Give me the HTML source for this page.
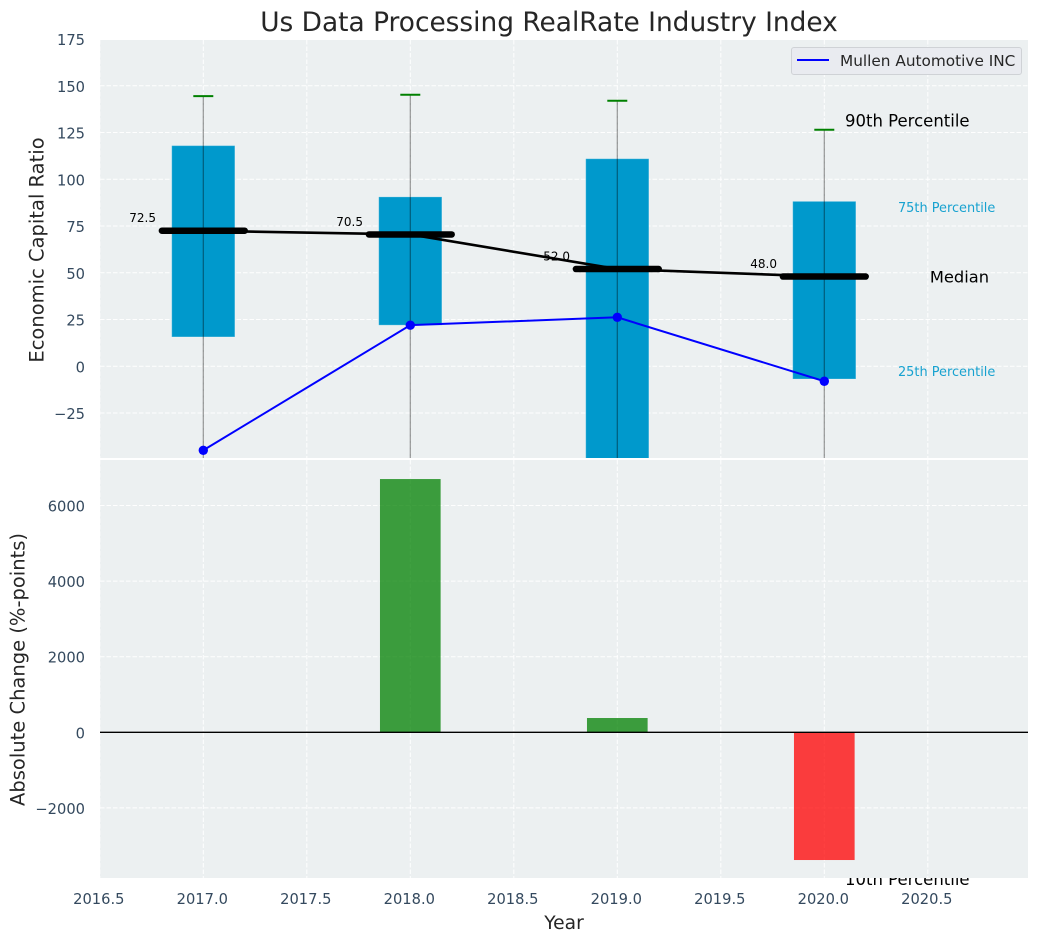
<!DOCTYPE html>
<html lang="en">
<head>
<meta charset="utf-8">
<title>Us Data Processing RealRate Industry Index</title>
<style>
html,body{margin:0;padding:0;background:#fff;width:1039px;height:942px;overflow:hidden}
svg{display:block}
text{font-family:"DejaVu Sans","Liberation Sans",sans-serif}
</style>
</head>
<body>
<svg id="chart" width="1039" height="942" viewBox="0 0 1039 942" xmlns="http://www.w3.org/2000/svg">
  <defs>
    <clipPath id="clip-top"><rect x="100" y="40" width="928" height="418"/></clipPath>
    <clipPath id="clip-bottom"><rect x="100" y="460" width="928" height="418"/></clipPath>
  </defs>
  <text x="549" y="31" text-anchor="middle" font-size="26.4" fill="#262626">Us Data Processing RealRate Industry Index</text>
  <rect x="100" y="40" width="928" height="418" fill="#ecf0f1"/>
  <g id="top-grid"></g>
  <g id="top-marks" clip-path="url(#clip-top)"></g>
  <g id="top-notes"></g>
  <rect x="100" y="460" width="928" height="418" fill="#ecf0f1"/>
  <g id="bottom-grid"></g>
  <g id="bottom-marks" clip-path="url(#clip-bottom)"></g>
  <g id="tick-labels"></g>
  <text transform="translate(37 250) rotate(-90)" dominant-baseline="central" text-anchor="middle" font-size="19.5" fill="#262626">Economic Capital Ratio</text>
  <text transform="translate(18 669.5) rotate(-90)" dominant-baseline="central" text-anchor="middle" font-size="19.5" fill="#262626">Absolute Change (%-points)</text>
  <text x="564" y="929" text-anchor="middle" font-size="18.67" fill="#262626">Year</text>
  <g>
    <rect x="791.5" y="47.5" width="230" height="27" rx="2.5" fill="#e9ebf0" stroke="#cfd2d6" stroke-width="1"/>
    <line x1="797" y1="60" x2="829" y2="60" stroke="#0000ff" stroke-width="2"/>
    <text x="840" y="66" font-size="15.3" fill="#262626">Mullen Automotive INC</text>
  </g>
</svg>
<script>
const years = [2017, 2018, 2019, 2020];
const p90 = [144.5, 145.2, 142, 126.5];
const p75 = [118, 90.6, 111, 88.2];
const medians = [72.5, 70.5, 52, 48];
const p25 = [15.7, 22, -60, -6.8];
const p10 = [-110, -90, -130, -279];
const companyValues = [-44.9, 22, 26.2, -8];
const absChange = [0, 6700, 378, -3379];
const xTickValues = [2016.5, 2017, 2017.5, 2018, 2018.5, 2019, 2019.5, 2020, 2020.5];
const topYTickValues = [175, 150, 125, 100, 75, 50, 25, 0, -25];
const bottomYTickValues = [6000, 4000, 2000, 0, -2000];

const NS = 'http://www.w3.org/2000/svg';
const xScale = v => 99.8 + (v - 2016.5) * 207;
const yTop = v => 366.3 - v * 1.87;
const yBottom = v => 732.3 - v * 0.0378;
const fmtNum = v => String(v).replace('-', '\u2212');

function mk(tag, parent, props) {
  const el = document.createElementNS(NS, tag);
  for (const k in props) el.setAttribute(k, props[k]);
  parent.appendChild(el);
  return el;
}

const topGrid = document.getElementById('top-grid');
const bottomGrid = document.getElementById('bottom-grid');
const topMarks = document.getElementById('top-marks');
const bottomMarks = document.getElementById('bottom-marks');
const topNotes = document.getElementById('top-notes');
const tickLabels = document.getElementById('tick-labels');
const gridStyle = {stroke: '#ffffff', 'stroke-width': 1, 'stroke-dasharray': '4.5 2', opacity: 0.95};

xTickValues.forEach(v => {
  const a = mk('line', topGrid, Object.assign({x1: xScale(v), x2: xScale(v), y1: 40, y2: 458}, gridStyle));
  
  
  const b = mk('line', bottomGrid, Object.assign({x1: xScale(v), x2: xScale(v), y1: 460, y2: 878}, gridStyle));
  
  
  const t = mk('text', tickLabels, {x: xScale(v) - 1, y: 904, 'text-anchor': 'middle', 'font-size': 14.67, fill: '#34495e'});
  
  
  t.textContent = v.toFixed(1);
});

topYTickValues.forEach(v => {
  if (yTop(v) > 40) {
    const g = mk('line', topGrid, Object.assign({x1: 100, x2: 1028, y1: yTop(v), y2: yTop(v)}, gridStyle));
    
    
  }
  const t = mk('text', tickLabels, {x: 85, y: yTop(v) + 6, 'text-anchor': 'end', 'font-size': 14.67, fill: '#34495e'});
  
  
  t.textContent = fmtNum(v);
});

bottomYTickValues.forEach(v => {
  const g = mk('line', bottomGrid, Object.assign({x1: 100, x2: 1028, y1: yBottom(v), y2: yBottom(v)}, gridStyle));
  
  
  const t = mk('text', tickLabels, {x: 85, y: yBottom(v) + 6, 'text-anchor': 'end', 'font-size': 14.67, fill: '#34495e'});
  
  
  t.textContent = fmtNum(v);
});

/* percentile boxes */
years.forEach((yr, i) => {
  const w = 0.305 * 207;
  const box = mk('rect', topMarks, {
    x: xScale(yr) - w / 2, y: yTop(p75[i]), width: w, height: yTop(p25[i]) - yTop(p75[i]),
    fill: '#0099cc', stroke: '#ffffff', 'stroke-opacity': 0.25, 'stroke-width': 1
  });
  
  
});

/* whiskers and caps */
years.forEach((yr, i) => {
  const w = mk('line', topMarks, {x1: xScale(yr), x2: xScale(yr), y1: yTop(p90[i]), y2: yTop(p10[i]), stroke: '#000000', 'stroke-opacity': 0.4, 'stroke-width': 1.2});
  
  
  const c = mk('line', topMarks, {x1: xScale(yr) - 10, x2: xScale(yr) + 10, y1: yTop(p90[i]), y2: yTop(p90[i]), stroke: '#008000', 'stroke-width': 2});
  
  
});

/* median labels sit under the median line */
years.forEach((yr, i) => {
  const t = mk('text', topMarks, {x: xScale(yr - 0.293), y: yTop(medians[i]) - 8.5, 'text-anchor': 'middle', 'font-size': 12, fill: '#000000'});
  
  
  t.textContent = medians[i].toFixed(1);
});

const medianLine = mk('polyline', topMarks, {
  points: years.map((yr, i) => xScale(yr) + ',' + yTop(medians[i])).join(' '),
  fill: 'none', stroke: '#000000', 'stroke-width': 2.6
});



years.forEach((yr, i) => {
  const m = mk('line', topMarks, {
    x1: xScale(yr - 0.2), x2: xScale(yr + 0.2), y1: yTop(medians[i]), y2: yTop(medians[i]),
    stroke: '#000000', 'stroke-width': 6.5, 'stroke-linecap': 'round'
  });
  
  
});

const companyLine = mk('polyline', topMarks, {
  points: years.map((yr, i) => xScale(yr) + ',' + yTop(companyValues[i])).join(' '),
  fill: 'none', stroke: '#0000ff', 'stroke-width': 2
});



years.forEach((yr, i) => {
  const p = mk('circle', topMarks, {cx: xScale(yr), cy: yTop(companyValues[i]), r: 4.7, fill: '#0000ff'});
  
  
});

/* annotations anchored to the last year's values */
const last = years.length - 1;
const n90 = mk('text', topNotes, {x: xScale(years[last] + 0.1), y: yTop(p90[last]) - 3, 'font-size': 16.5, fill: '#000000'});


n90.textContent = '90th Percentile';
const n75 = mk('text', topNotes, {x: xScale(years[last] + 0.356), y: yTop(p75[last]) + 10.5, 'font-size': 12.9, fill: '#0099cc', 'fill-opacity': 0.9});


n75.textContent = '75th Percentile';
const n50 = mk('text', topNotes, {x: xScale(years[last] + 0.51), y: yTop(medians[last]) + 6, 'font-size': 16.3, fill: '#000000'});


n50.textContent = 'Median';
const n25 = mk('text', topNotes, {x: xScale(years[last] + 0.356), y: yTop(p25[last]) - 3, 'font-size': 12.9, fill: '#0099cc', 'fill-opacity': 0.9});


n25.textContent = '25th Percentile';
const n10 = mk('text', topNotes, {x: xScale(years[last] + 0.1), y: yTop(p10[last]) - 3, 'font-size': 16.5, fill: '#000000'});


n10.textContent = '10th Percentile';

/* absolute change bars */
years.forEach((yr, i) => {
  if (absChange[i] === 0) return;
  const w = 0.293 * 207;
  const top = Math.min(yBottom(absChange[i]), yBottom(0));
  const h = Math.abs(yBottom(absChange[i]) - yBottom(0));
  const b = mk('rect', bottomMarks, {
    x: xScale(yr) - w / 2, y: top, width: w, height: h,
    fill: absChange[i] > 0 ? '#008000' : '#ff0000', 'fill-opacity': 0.75
  });
  
  
});

const zero = mk('line', bottomMarks, {x1: 100, x2: 1028, y1: yBottom(0), y2: yBottom(0), stroke: '#000000', 'stroke-width': 1.3});


</script>
</body>
</html>
